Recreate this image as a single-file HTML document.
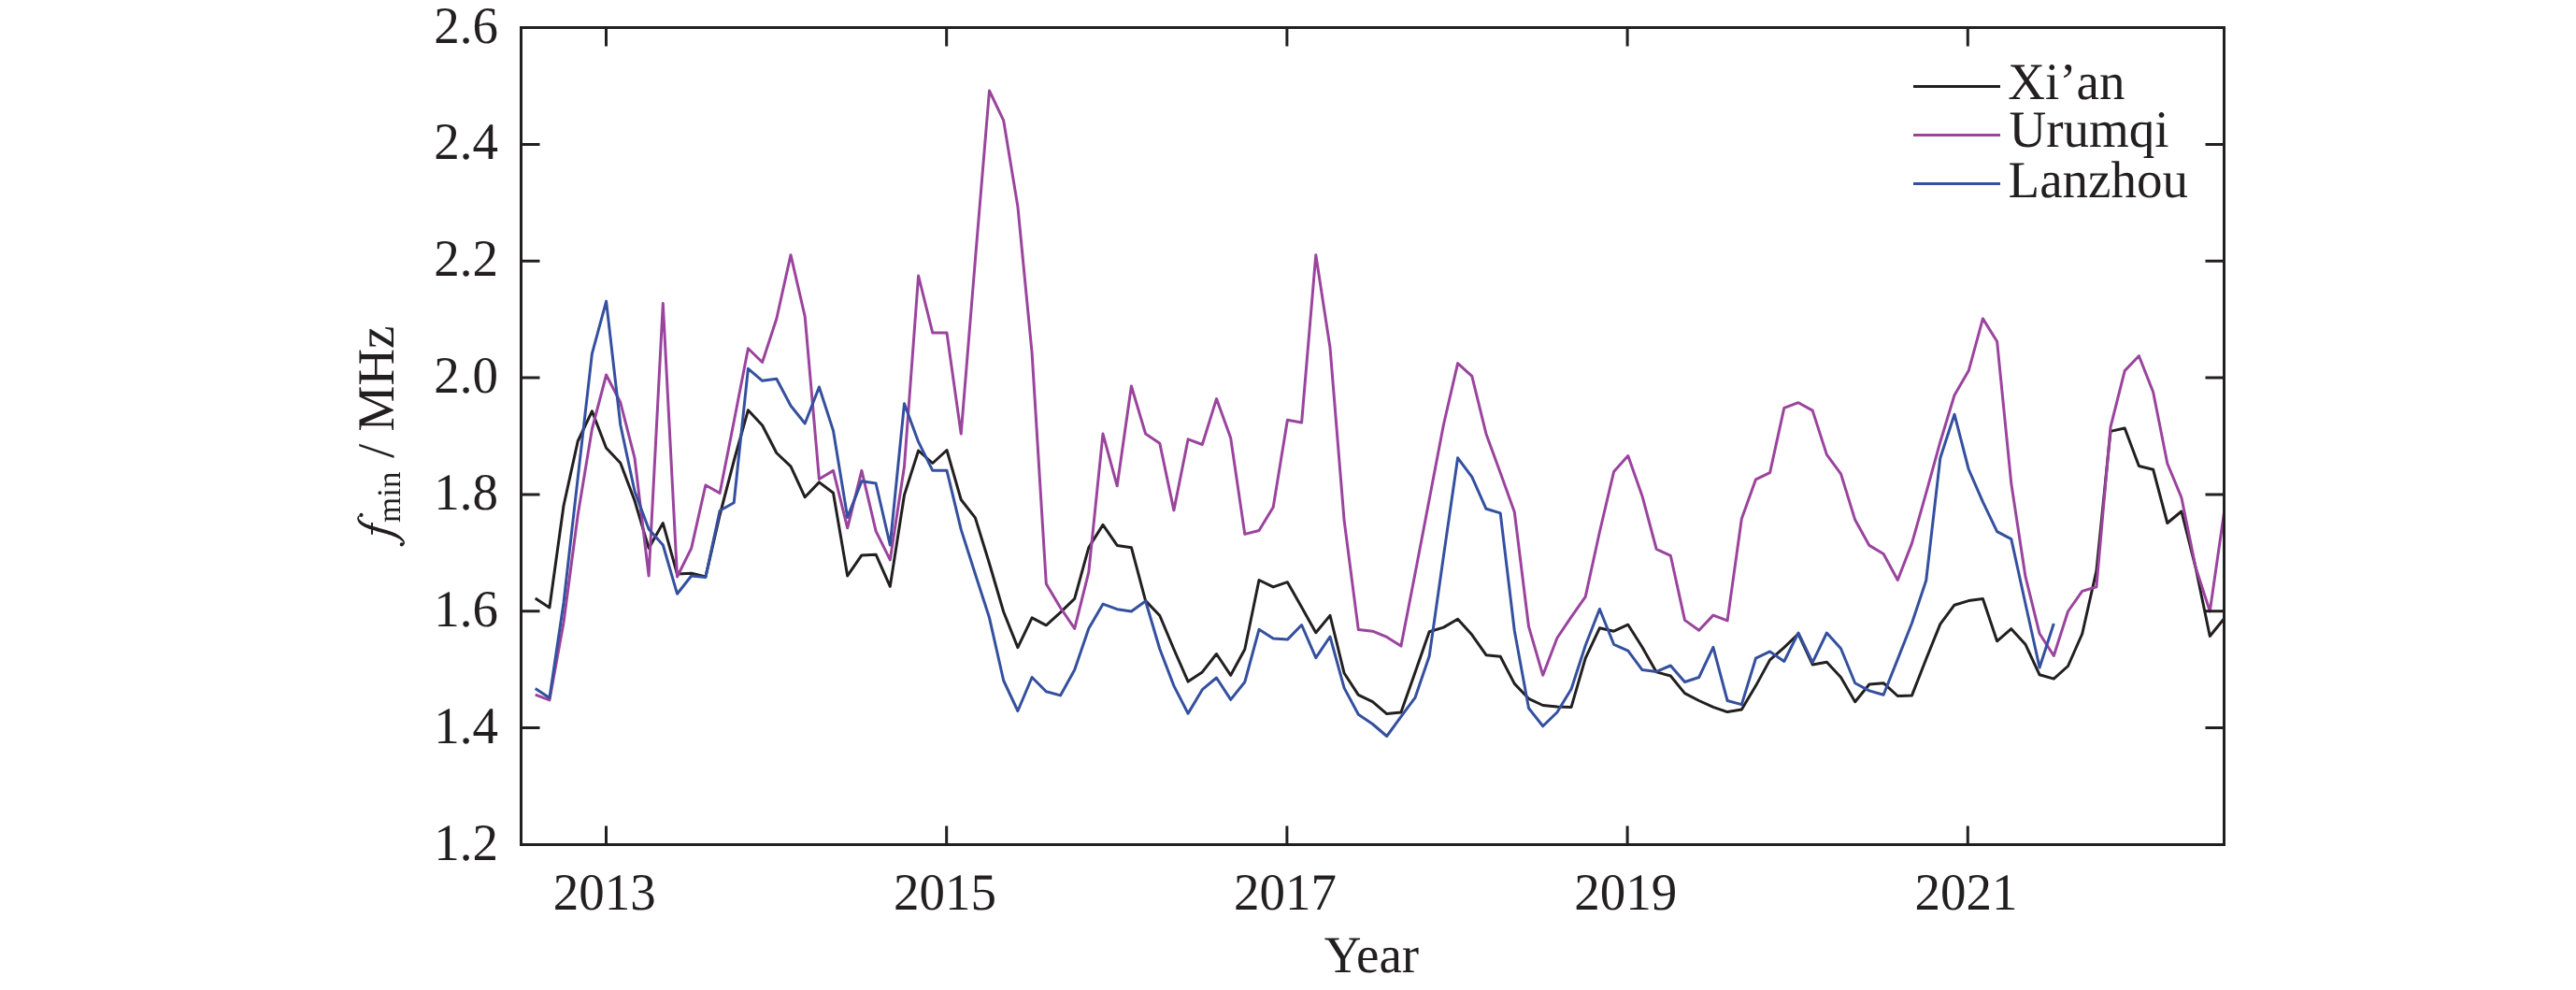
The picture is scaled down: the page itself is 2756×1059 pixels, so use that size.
<!DOCTYPE html>
<html><head><meta charset="utf-8"><title>fmin</title>
<style>html,body{margin:0;padding:0;background:#fff}body{width:2756px;height:1059px;position:relative;overflow:hidden;font-family:"Liberation Serif",serif}</style>
</head><body>
<svg width="2756" height="1059" viewBox="0 0 2756 1059" style="position:absolute;left:0;top:0">
<g fill="none" stroke-linejoin="round" stroke-linecap="butt" stroke-width="3">
<polyline stroke="#231f20" points="572.7,640.0 587.9,650.0 603.0,541.0 618.2,472.0 633.4,439.8 648.6,479.3 663.8,495.3 679.0,535.5 694.1,586.4 709.3,559.6 724.5,614.0 739.7,613.2 754.9,617.0 770.1,551.0 785.2,493.0 800.4,438.7 815.6,455.0 830.8,484.5 846.0,498.8 861.2,531.8 876.4,515.9 891.5,527.3 906.7,615.9 921.9,593.9 937.1,593.2 952.3,627.3 967.5,529.5 982.6,482.0 997.8,495.5 1013.0,481.5 1028.2,534.5 1043.4,553.9 1058.5,602.7 1073.7,654.5 1088.9,692.6 1104.1,660.8 1119.3,668.8 1134.5,655.1 1149.7,640.4 1164.8,585.7 1180.0,561.4 1195.2,583.4 1210.4,585.7 1225.6,642.6 1240.8,658.5 1255.9,694.5 1271.1,729.1 1286.3,718.9 1301.5,699.5 1316.7,722.3 1331.8,694.5 1347.0,620.5 1362.2,627.9 1377.4,622.7 1392.6,649.4 1407.8,676.7 1423.0,658.4 1438.1,720.0 1453.3,743.4 1468.5,750.7 1483.7,763.6 1498.9,762.0 1514.1,718.9 1529.2,675.7 1544.4,671.1 1559.6,662.2 1574.8,679.1 1590.0,700.7 1605.2,702.3 1620.3,731.4 1635.5,747.3 1650.7,754.5 1665.9,755.9 1681.1,756.4 1696.2,704.1 1711.4,671.8 1726.6,675.2 1741.8,668.2 1757.0,692.3 1772.2,718.9 1787.3,723.0 1802.5,741.6 1817.7,749.5 1832.9,756.4 1848.1,761.6 1863.3,759.1 1878.5,733.6 1893.6,705.9 1908.8,692.7 1924.0,678.0 1939.2,710.9 1954.4,708.2 1969.5,724.5 1984.7,750.7 1999.9,732.0 2015.1,730.7 2030.3,744.5 2045.5,743.9 2060.7,705.0 2075.8,667.6 2091.0,647.2 2106.2,642.6 2121.4,640.4 2136.6,685.8 2151.8,672.7 2166.9,689.2 2182.1,721.8 2197.3,726.1 2212.5,712.5 2227.7,678.0 2242.9,610.7 2258.0,461.4 2273.2,458.0 2288.4,498.5 2303.6,502.2 2318.8,559.5 2333.9,547.0 2349.1,607.3 2364.3,680.5 2379.5,661.8"/>
<polyline stroke="#9a449d" points="572.7,743.2 587.9,748.9 603.0,666.0 618.2,551.0 633.4,459.0 648.6,401.0 663.8,430.5 679.0,489.8 694.1,616.0 709.3,324.5 724.5,617.0 739.7,586.4 754.9,519.0 770.1,527.5 785.2,451.0 800.4,372.7 815.6,387.5 830.8,341.0 846.0,272.7 861.2,338.6 876.4,512.5 891.5,503.4 906.7,564.8 921.9,503.4 937.1,568.2 952.3,598.9 967.5,499.0 982.6,295.0 997.8,356.1 1013.0,356.1 1028.2,464.1 1043.4,278.0 1058.5,97.0 1073.7,128.9 1088.9,220.9 1104.1,377.7 1119.3,624.4 1134.5,650.0 1149.7,672.4 1164.8,611.8 1180.0,464.1 1195.2,519.8 1210.4,413.0 1225.6,464.0 1240.8,474.3 1255.9,545.9 1271.1,469.8 1286.3,475.5 1301.5,426.6 1316.7,468.6 1331.8,571.4 1347.0,567.5 1362.2,542.5 1377.4,449.3 1392.6,452.0 1407.8,272.7 1423.0,371.8 1438.1,556.8 1453.3,673.6 1468.5,675.2 1483.7,681.4 1498.9,691.1 1514.1,613.0 1529.2,534.0 1544.4,454.5 1559.6,388.6 1574.8,402.3 1590.0,464.2 1605.2,505.7 1620.3,547.7 1635.5,670.2 1650.7,722.3 1665.9,682.5 1681.1,659.8 1696.2,638.4 1711.4,569.0 1726.6,504.5 1741.8,487.5 1757.0,530.7 1772.2,587.5 1787.3,594.3 1802.5,663.4 1817.7,674.2 1832.9,658.1 1848.1,663.9 1863.3,555.0 1878.5,512.8 1893.6,505.6 1908.8,436.4 1924.0,430.7 1939.2,439.1 1954.4,486.4 1969.5,506.8 1984.7,556.1 1999.9,583.4 2015.1,592.5 2030.3,620.5 2045.5,581.1 2060.7,527.4 2075.8,472.7 2091.0,422.7 2106.2,396.6 2121.4,340.9 2136.6,365.2 2151.8,517.3 2166.9,616.4 2182.1,677.8 2197.3,701.5 2212.5,654.0 2227.7,632.4 2242.9,627.8 2258.0,456.8 2273.2,396.6 2288.4,380.7 2303.6,419.3 2318.8,495.7 2333.9,532.3 2349.1,607.0 2364.3,653.9 2379.5,548.2"/>
<polyline stroke="#34509e" points="572.7,736.4 587.9,746.6 603.0,645.0 618.2,511.4 633.4,378.4 648.6,322.3 663.8,454.5 679.0,525.5 694.1,566.0 709.3,583.0 724.5,635.2 739.7,616.0 754.9,617.5 770.1,546.2 785.2,537.8 800.4,394.3 815.6,407.3 830.8,405.2 846.0,434.0 861.2,453.0 876.4,414.0 891.5,460.7 906.7,553.4 921.9,514.8 937.1,517.0 952.3,583.0 967.5,431.8 982.6,472.7 997.8,503.3 1013.0,503.3 1028.2,566.4 1043.4,614.0 1058.5,660.8 1073.7,728.0 1088.9,760.5 1104.1,724.5 1119.3,739.8 1134.5,743.9 1149.7,716.6 1164.8,672.2 1180.0,646.2 1195.2,651.7 1210.4,654.0 1225.6,643.0 1240.8,694.3 1255.9,733.6 1271.1,763.2 1286.3,737.7 1301.5,725.0 1316.7,748.4 1331.8,729.5 1347.0,673.3 1362.2,682.9 1377.4,684.1 1392.6,668.5 1407.8,703.7 1423.0,681.0 1438.1,735.9 1453.3,764.3 1468.5,774.5 1483.7,787.5 1498.9,766.6 1514.1,746.1 1529.2,701.8 1544.4,595.0 1559.6,489.8 1574.8,510.2 1590.0,544.3 1605.2,548.9 1620.3,674.7 1635.5,757.5 1650.7,776.8 1665.9,762.0 1681.1,737.0 1696.2,690.5 1711.4,651.5 1726.6,689.3 1741.8,696.1 1757.0,716.6 1772.2,718.4 1787.3,712.0 1802.5,729.5 1817.7,724.5 1832.9,692.3 1848.1,749.5 1863.3,753.6 1878.5,704.2 1893.6,696.9 1908.8,707.5 1924.0,677.0 1939.2,708.6 1954.4,677.0 1969.5,693.7 1984.7,730.7 1999.9,738.9 2015.1,743.2 2030.3,705.1 2045.5,666.5 2060.7,621.0 2075.8,490.0 2091.0,443.2 2106.2,502.0 2121.4,536.8 2136.6,568.6 2151.8,576.6 2166.9,645.5 2182.1,714.0 2197.3,667.0"/>
</g>
<g stroke="#231f20" stroke-width="3" fill="none">
<rect x="557.5" y="29.5" width="1822.0" height="874.0"/>
<path d="M648.5 29.5v20.0M648.5 903.5v-20.0M1012.7 29.5v20.0M1012.7 903.5v-20.0M1376.9 29.5v20.0M1376.9 903.5v-20.0M1741.1 29.5v20.0M1741.1 903.5v-20.0M2105.3 29.5v20.0M2105.3 903.5v-20.0M557.5 778.6h20.0M2379.5 778.6h-20.0M557.5 653.8h20.0M2379.5 653.8h-20.0M557.5 528.9h20.0M2379.5 528.9h-20.0M557.5 404.1h20.0M2379.5 404.1h-20.0M557.5 279.2h20.0M2379.5 279.2h-20.0M557.5 154.4h20.0M2379.5 154.4h-20.0"/>
</g>
<g stroke-width="3" fill="none">
<path stroke="#231f20" d="M2047 92.5H2140"/>
<path stroke="#9a449d" d="M2047 144.5H2140"/>
<path stroke="#34509e" d="M2047 196.5H2140"/>
</g>
<g font-family="'Liberation Serif', serif" font-size="55" fill="#231f20" style="text-rendering:geometricPrecision">
<text transform="translate(533.0,919.5) scale(1,1.015)" text-anchor="end">1.2</text>
<text transform="translate(533.0,794.6) scale(1,1.015)" text-anchor="end">1.4</text>
<text transform="translate(533.0,669.8) scale(1,1.015)" text-anchor="end">1.6</text>
<text transform="translate(533.0,544.9) scale(1,1.015)" text-anchor="end">1.8</text>
<text transform="translate(533.0,420.1) scale(1,1.015)" text-anchor="end">2.0</text>
<text transform="translate(533.0,295.2) scale(1,1.015)" text-anchor="end">2.2</text>
<text transform="translate(533.0,170.4) scale(1,1.015)" text-anchor="end">2.4</text>
<text transform="translate(533.0,45.5) scale(1,1.015)" text-anchor="end">2.6</text>
<text transform="translate(646.7,972.5) scale(1,1.015)" text-anchor="middle">2013</text>
<text transform="translate(1010.9,972.5) scale(1,1.015)" text-anchor="middle">2015</text>
<text transform="translate(1375.1,972.5) scale(1,1.015)" text-anchor="middle">2017</text>
<text transform="translate(1739.3,972.5) scale(1,1.015)" text-anchor="middle">2019</text>
<text transform="translate(2103.5,972.5) scale(1,1.015)" text-anchor="middle">2021</text>
<text transform="translate(1467.5,1040.2) scale(1,1.015)" text-anchor="middle">Year</text>
<text transform="translate(2148.3,105.8) scale(1,1.015)" text-anchor="start">Xi’an</text>
<text transform="translate(2149.5,157.4) scale(1,1.015)" text-anchor="start">Urumqi</text>
<text transform="translate(2148.6,210.6) scale(1,1.015)" text-anchor="start">Lanzhou</text>
<g transform="translate(421.3,586) rotate(-90) scale(1,1.015)">
<text x="27" y="6.6" font-size="35" style="filter:grayscale(1)">min</text>
<text x="96" y="0">/</text>
<text x="124.5" y="0">MHz</text>
</g>
</g>
<path fill="#231f20" d="M385.39 551.04L385.26 551.08L385.06 551.13L384.81 551.20L384.53 551.29L384.22 551.39L383.91 551.52L383.59 551.69L383.31 551.90L383.08 552.14L382.89 552.40L382.73 552.67L382.58 552.95L382.47 553.25L382.37 553.55L382.30 553.86L382.25 554.18L382.23 554.49L382.24 554.81L382.27 555.13L382.33 555.45L382.40 555.76L382.50 556.08L382.61 556.40L382.73 556.73L382.87 557.06L383.03 557.41L383.20 557.78L383.40 558.15L383.62 558.54L383.87 558.93L384.15 559.31L384.46 559.68L384.80 560.04L385.17 560.39L385.55 560.72L385.95 561.05L386.36 561.36L386.77 561.67L387.19 561.96L387.61 562.25L388.01 562.52L388.41 562.78L388.82 563.04L389.25 563.29L389.70 563.54L390.19 563.79L390.72 564.05L391.30 564.31L391.93 564.58L392.60 564.85L393.30 565.11L394.03 565.38L394.79 565.65L395.57 565.92L396.38 566.19L397.22 566.46L398.10 566.74L399.02 567.02L399.98 567.29L400.96 567.57L401.95 567.85L402.93 568.13L403.91 568.41L404.87 568.68L405.82 568.94L406.76 569.21L407.70 569.46L408.63 569.72L409.56 569.97L410.49 570.23L411.41 570.49L412.34 570.77L413.29 571.05L414.28 571.35L415.27 571.65L416.26 571.96L417.23 572.26L418.15 572.56L419.03 572.85L419.84 573.13L420.58 573.39L421.28 573.65L421.94 573.89L422.56 574.14L423.15 574.38L423.72 574.63L424.28 574.88L424.82 575.14L425.34 575.40L425.84 575.68L426.33 575.96L426.80 576.25L427.26 576.54L427.70 576.83L428.11 577.12L428.51 577.40L428.88 577.68L429.23 577.95L429.56 578.23L429.87 578.50L430.15 578.76L430.41 579.02L430.65 579.26L430.85 579.50L431.03 579.72L431.18 579.93L431.31 580.13L431.41 580.32L431.49 580.49L431.54 580.66L431.58 580.81L431.60 580.94L431.60 581.04L431.56 581.19L431.48 581.37L431.37 581.56L431.24 581.76L431.11 581.95L430.99 582.13L430.90 582.27L431.90 582.93L431.97 582.83L432.09 582.69L432.24 582.51L432.42 582.29L432.60 582.03L432.77 581.75L432.91 581.42L433.00 581.06L433.02 580.73L433.01 580.42L432.96 580.11L432.89 579.79L432.79 579.48L432.67 579.16L432.52 578.83L432.35 578.50L432.15 578.16L431.93 577.81L431.68 577.45L431.40 577.09L431.11 576.72L430.79 576.35L430.45 575.97L430.09 575.60L429.71 575.22L429.32 574.83L428.90 574.44L428.45 574.04L427.97 573.64L427.47 573.24L426.94 572.84L426.38 572.46L425.82 572.09L425.24 571.74L424.65 571.38L424.03 571.04L423.37 570.69L422.68 570.35L421.95 570.01L421.16 569.67L420.31 569.33L419.39 568.99L418.43 568.64L417.44 568.31L416.43 567.97L415.43 567.65L414.43 567.34L413.46 567.03L412.51 566.74L411.55 566.47L410.61 566.20L409.67 565.94L408.73 565.69L407.79 565.44L406.86 565.19L405.93 564.92L404.97 564.65L404.00 564.37L403.01 564.09L402.03 563.81L401.07 563.53L400.13 563.26L399.23 563.00L398.38 562.74L397.56 562.49L396.77 562.24L396.00 562.00L395.26 561.77L394.56 561.54L393.90 561.32L393.27 561.10L392.70 560.89L392.18 560.69L391.71 560.50L391.29 560.31L390.90 560.14L390.53 559.96L390.16 559.77L389.79 559.57L389.39 559.35L388.99 559.13L388.60 558.90L388.21 558.66L387.84 558.43L387.48 558.19L387.14 557.96L386.83 557.73L386.54 557.52L386.27 557.31L386.01 557.08L385.75 556.86L385.50 556.62L385.27 556.38L385.05 556.14L384.85 555.90L384.67 555.67L384.51 555.46L384.37 555.25L384.26 555.06L384.16 554.88L384.08 554.71L384.02 554.54L383.98 554.38L383.95 554.22L383.94 554.06L383.95 553.87L383.97 553.69L384.02 553.50L384.07 553.32L384.14 553.15L384.22 553.01L384.29 552.90L384.38 552.81L384.52 552.70L384.73 552.59L384.96 552.49L385.21 552.39L385.44 552.31L385.65 552.23L385.81 552.16ZM384.45 550.90a2.05 2.05 0 1 0 4.10 0a2.05 2.05 0 1 0 -4.10 0ZM427.75 582.40a2.05 2.05 0 1 0 4.10 0a2.05 2.05 0 1 0 -4.10 0ZM397.0 558.9V571.8H399.0V558.9Z"/>
</svg>
</body></html>
